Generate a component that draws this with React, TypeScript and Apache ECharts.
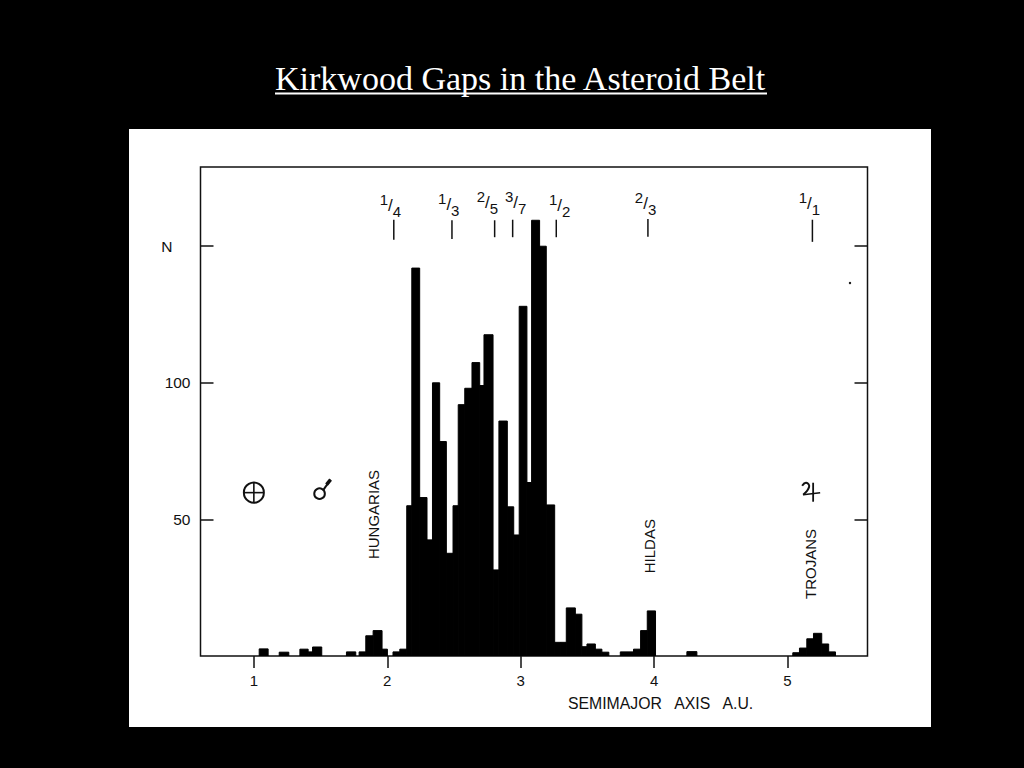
import React, { useEffect, useRef } from "react";
import * as echarts from "echarts";

const titleText = "Kirkwood Gaps in the Asteroid Belt";
const xAxisTitle = "SEMIMAJOR   AXIS   A.U.";
const xTickValues = [1, 2, 3, 4, 5];
const yTickValues = [50, 100, 150];
const yTickNames = ["50", "100", "N"];

const binLeft = [1.04, 1.19, 1.345, 1.407, 1.44, 1.694, 1.789, 1.839, 1.894, 1.961, 2.043, 2.094, 2.146, 2.184, 2.243, 2.298, 2.339, 2.393, 2.443, 2.493, 2.532, 2.581, 2.635, 2.693, 2.725, 2.793, 2.837, 2.9, 2.948, 2.989, 3.047, 3.082, 3.142, 3.192, 3.255, 3.3, 3.342, 3.41, 3.459, 3.497, 3.56, 3.609, 3.747, 3.794, 3.846, 3.899, 3.949, 4.246, 5.04, 5.09, 5.145, 5.195, 5.257, 5.309];
const binRight = [1.107, 1.262, 1.407, 1.44, 1.509, 1.764, 1.839, 1.894, 1.961, 2.001, 2.094, 2.146, 2.184, 2.243, 2.298, 2.339, 2.393, 2.443, 2.493, 2.532, 2.581, 2.635, 2.693, 2.725, 2.793, 2.837, 2.9, 2.948, 2.989, 3.047, 3.082, 3.142, 3.192, 3.255, 3.3, 3.342, 3.41, 3.459, 3.497, 3.56, 3.609, 3.661, 3.794, 3.846, 3.899, 3.949, 4.011, 4.321, 5.09, 5.145, 5.195, 5.257, 5.309, 5.36];
const binCounts = [2.6, 1.4, 2.5, 1.5, 3.3, 1.5, 1.5, 7.4, 9.3, 2.5, 1.5, 2.5, 55, 142, 58, 42.5, 100, 78.5, 37.6, 55, 92, 98, 107.4, 99, 117.6, 31.5, 86, 54.6, 44.3, 128, 63.5, 159.5, 150, 55.3, 5, 5, 17.6, 15.3, 3.4, 4.4, 2.5, 1.4, 1.5, 1.5, 2.5, 9.3, 16.5, 1.6, 1.2, 2.9, 6.3, 8.3, 4.4, 1.5];

const resonanceNumerators = ["1", "1", "2", "3", "1", "2", "1"];
const resonanceDenominators = ["4", "3", "5", "7", "2", "3", "1"];
const resonanceAU = [2.049, 2.485, 2.805, 2.94, 3.267, 3.954, 5.187];
const resonanceLabelAU = [2.024, 2.461, 2.751, 2.963, 3.292, 3.936, 5.165];
const resonanceTop = [159.7, 159.5, 159.5, 159.7, 159.7, 160, 159.7];
const resonanceBottom = [152.4, 152.6, 153.3, 153.3, 153.3, 153.5, 151.6];
const resonanceLabelN = [164.8, 165.2, 165.9, 165.9, 164.8, 165.6, 165.6];

const groupNames = ["HUNGARIAS", "HILDAS", "TROJANS"];
const groupAU = [1.894, 3.966, 5.17];
const groupN = [51.8, 40.2, 33.7];

const planetNames = ["earth", "mars", "jupiter"];
const planetAU = [1.0, 1.5, 5.17];
const planetN = [59.8, 59.8, 60.5];

const INK = "#111111";

function planetGlyph(name: string, x: number, y: number) {
  const stroke = { stroke: INK, fill: "none", lineWidth: 2 };
  if (name === "earth") {
    return [
      { type: "circle", shape: { cx: x, cy: y, r: 10 }, style: stroke },
      { type: "line", shape: { x1: x - 10, y1: y, x2: x + 10, y2: y }, style: { stroke: INK, lineWidth: 1.6 } },
      { type: "line", shape: { x1: x, y1: y - 10, x2: x, y2: y + 10 }, style: { stroke: INK, lineWidth: 1.6 } },
    ];
  }
  if (name === "mars") {
    return [
      { type: "circle", shape: { cx: x - 1, cy: y + 1, r: 5.3 }, style: stroke },
      { type: "line", shape: { x1: x + 3, y1: y - 3, x2: x + 10, y2: y - 13 }, style: { stroke: INK, lineWidth: 2 } },
      { type: "line", shape: { x1: x + 6, y1: y - 8, x2: x + 10, y2: y - 13 }, style: { stroke: INK, lineWidth: 3.5 } },
    ];
  }
  return [
    {
      type: "polyline",
      shape: { points: [[x - 8, y - 5], [x - 4, y - 8], [x - 1, y - 4], [x - 7, y + 4]], smooth: 0.5 },
      style: stroke,
    },
    { type: "line", shape: { x1: x - 7, y1: y + 4, x2: x + 10, y2: y + 2 }, style: { stroke: INK, lineWidth: 1.6 } },
    { type: "line", shape: { x1: x + 3, y1: y - 8, x2: x + 3, y2: y + 11 }, style: { stroke: INK, lineWidth: 1.8 } },
  ];
}

export default function App() {
  const ref = useRef<HTMLDivElement>(null);
  useEffect(() => {
    const chart = echarts.init(ref.current!, null, { renderer: "svg" });
    const sans = "Liberation Sans";
    chart.setOption({
      animation: false,
      backgroundColor: "#000000",
      title: {
        text: titleText,
        left: 275,
        top: 61,
        padding: 0,
        textStyle: { color: "#ffffff", fontFamily: "Liberation Serif", fontSize: 34, fontWeight: "normal" },
      },
      graphic: [
        { type: "rect", z: -20, silent: true, shape: { x: 129, y: 129, width: 802, height: 598 }, style: { fill: "#ffffff" } },
        { type: "rect", silent: true, shape: { x: 275, y: 92.5, width: 492, height: 2 }, style: { fill: "#ffffff" } },
        { type: "text", x: 568, y: 703.5, style: { text: xAxisTitle, fill: INK, font: `15.8px ${sans}`, align: "left", verticalAlign: "middle" } },
        { type: "circle", shape: { cx: 850, cy: 283, r: 1.2 }, style: { fill: INK } },
      ],
      grid: { left: 200.5, top: 167, width: 667, height: 489, show: true, backgroundColor: "transparent", borderColor: INK, borderWidth: 1.5 },
      xAxis: {
        type: "value",
        min: 0.6,
        max: 5.6,
        splitLine: { show: false },
        axisLine: { show: false },
        axisTick: { show: true, customValues: xTickValues, length: 12, inside: false, lineStyle: { color: INK, width: 1.5 } },
        axisLabel: { show: true, customValues: xTickValues, margin: 17, color: INK, fontFamily: sans, fontSize: 15, formatter: (v: number) => String(v) },
      },
      yAxis: [
        {
          type: "value",
          min: 0,
          max: 179,
          position: "left",
          splitLine: { show: false },
          axisLine: { show: false },
          axisTick: { show: true, customValues: yTickValues, length: 13, inside: true, lineStyle: { color: INK, width: 1.5 } },
          axisLabel: {
            show: true,
            customValues: yTickValues,
            margin: 10,
            color: INK,
            fontFamily: sans,
            fontSize: 15.5,
            formatter: (v: number) => {
              const name = yTickNames[yTickValues.indexOf(v)];
              return name === "N" ? "{n|N}" : name;
            },
            rich: { n: { color: INK, fontFamily: sans, fontSize: 15.5, padding: [0, 18, 0, 0] } },
          },
        },
        {
          type: "value",
          min: 0,
          max: 179,
          position: "right",
          splitLine: { show: false },
          axisLine: { show: false },
          axisTick: { show: true, customValues: yTickValues, length: 13, inside: true, lineStyle: { color: INK, width: 1.5 } },
          axisLabel: { show: false },
        },
      ],
      series: [
        {
          type: "custom",
          name: "N",
          clip: true,
          data: binCounts.map((c, i) => [binLeft[i], binRight[i], c]),
          encode: { x: [0, 1], y: 2 },
          renderItem: (_p: any, api: any) => {
            const a = api.coord([api.value(0), api.value(2)]);
            const b = api.coord([api.value(1), 0]);
            return {
              type: "rect",
              shape: { x: a[0], y: a[1], width: b[0] - a[0], height: b[1] - a[1] },
              style: { fill: "#000000", stroke: "#000000", lineWidth: 1 },
            };
          },
        },
        {
          type: "custom",
          name: "Resonances",
          data: resonanceAU.map((x, i) => [x, resonanceTop[i], resonanceBottom[i], resonanceLabelAU[i], resonanceLabelN[i]]),
          encode: { x: 0, y: 1 },
          renderItem: (p: any, api: any) => {
            const top = api.coord([api.value(0), api.value(1)]);
            const bot = api.coord([api.value(0), api.value(2)]);
            const lab = api.coord([api.value(3), api.value(4)]);
            const i = p.dataIndex;
            return {
              type: "group",
              children: [
                { type: "line", shape: { x1: top[0], y1: top[1], x2: bot[0], y2: bot[1] }, style: { stroke: INK, lineWidth: 1.5 } },
                {
                  type: "text",
                  x: lab[0],
                  y: lab[1],
                  style: {
                    text: `{n|${resonanceNumerators[i]}}{s|/}{d|${resonanceDenominators[i]}}`,
                    align: "center",
                    verticalAlign: "middle",
                    fill: INK,
                    rich: {
                      n: { fontFamily: sans, fontSize: 15, lineHeight: 15, verticalAlign: "top", fill: INK },
                      s: { fontFamily: sans, fontSize: 17, lineHeight: 27, verticalAlign: "middle", fill: INK },
                      d: { fontFamily: sans, fontSize: 15, lineHeight: 15, verticalAlign: "bottom", fill: INK },
                    },
                  },
                },
              ],
            };
          },
        },
        {
          type: "custom",
          name: "Groups",
          data: groupAU.map((x, i) => [x, groupN[i]]),
          encode: { x: 0, y: 1 },
          renderItem: (p: any, api: any) => {
            const c = api.coord([api.value(0), api.value(1)]);
            return {
              type: "text",
              x: c[0],
              y: c[1],
              rotation: Math.PI / 2,
              style: { text: groupNames[p.dataIndex], font: `15px ${sans}`, fill: INK, align: "center", verticalAlign: "middle" },
            };
          },
        },
        {
          type: "custom",
          name: "Planets",
          data: planetAU.map((x, i) => [x, planetN[i]]),
          encode: { x: 0, y: 1 },
          renderItem: (p: any, api: any) => {
            const c = api.coord([api.value(0), api.value(1)]);
            return { type: "group", children: planetGlyph(planetNames[p.dataIndex], c[0], c[1]) };
          },
        },
      ],
    });
    return () => chart.dispose();
  }, []);
  return <div ref={ref} style={{ position: "fixed", left: 0, top: 0, width: 1024, height: 768 }} />;
}
